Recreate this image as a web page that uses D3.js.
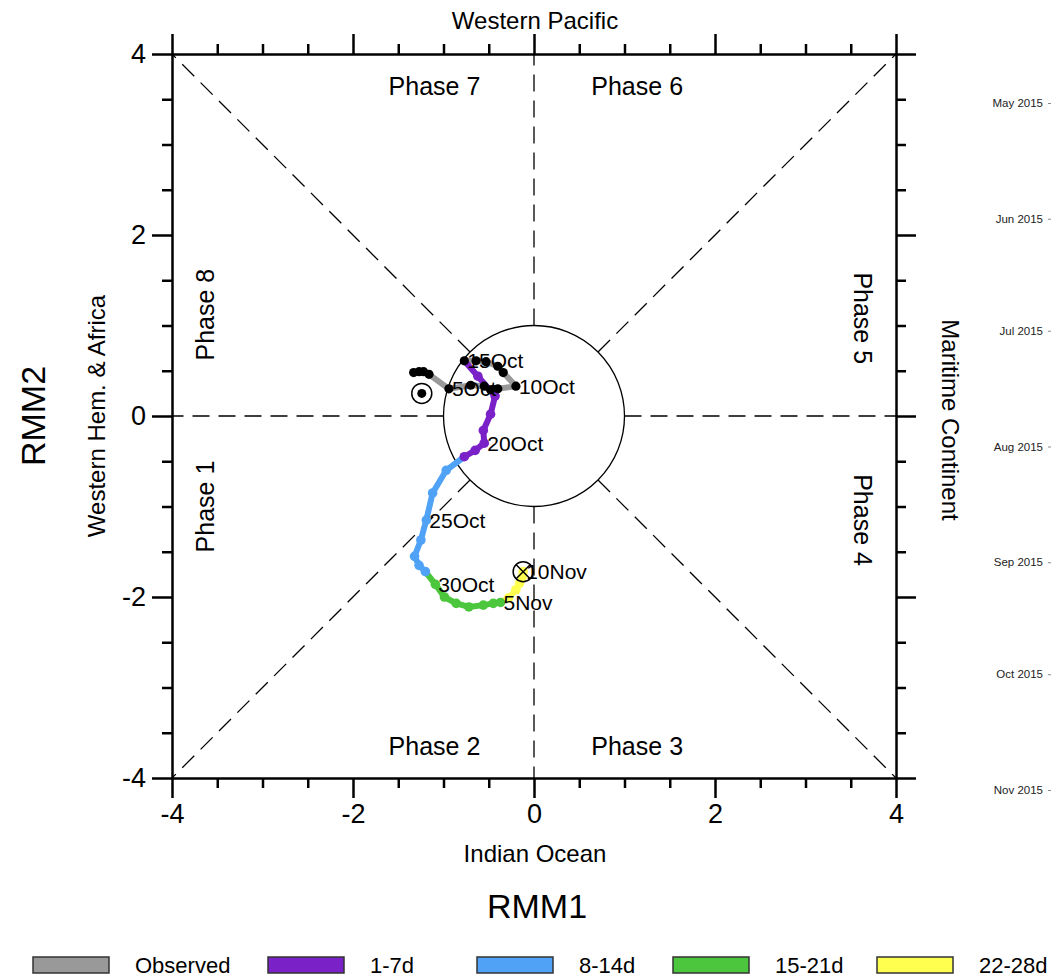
<!DOCTYPE html>
<html>
<head>
<meta charset="utf-8">
<script src="https://cdn.jsdelivr.net/npm/d3@7"></script>
<style>
  body { margin: 0; background: #fff; }
  text { font-family: "Liberation Sans", Arial, Helvetica, sans-serif; }
</style>
</head>
<body>
<div id="chart"></div>
<script>
// observed RMM index (last days before the forecast start)
const obsDates = ["2015-10-01","2015-10-02","2015-10-03","2015-10-04","2015-10-05","2015-10-06","2015-10-07",
  "2015-10-08","2015-10-09","2015-10-10","2015-10-11","2015-10-12","2015-10-13","2015-10-14","2015-10-15"];
const obsRMM1 = [-1.33,-1.27,-1.22,-1.16,-0.94,-0.70,-0.55,-0.48,-0.40,-0.20,-0.34,-0.40,-0.53,-0.64,-0.77];
const obsRMM2 = [0.48,0.49,0.49,0.46,0.30,0.34,0.33,0.29,0.30,0.33,0.48,0.55,0.60,0.61,0.61];

// ensemble mean forecast, lead days 1..26
const fcDates = ["2015-10-16","2015-10-17","2015-10-18","2015-10-19","2015-10-20","2015-10-21","2015-10-22",
  "2015-10-23","2015-10-24","2015-10-25","2015-10-26","2015-10-27","2015-10-28","2015-10-29",
  "2015-10-30","2015-10-31","2015-11-01","2015-11-02","2015-11-03","2015-11-04","2015-11-05",
  "2015-11-06","2015-11-07","2015-11-08","2015-11-09","2015-11-10"];
const fcRMM1 = [-0.62,-0.43,-0.48,-0.56,-0.55,-0.65,-0.77,
  -0.97,-1.12,-1.19,-1.25,-1.32,-1.27,-1.20,
  -1.09,-0.99,-0.86,-0.72,-0.56,-0.45,-0.37,
  -0.28,-0.20,-0.16,-0.13,-0.12];
const fcRMM2 = [0.44,0.22,0.02,-0.16,-0.30,-0.38,-0.45,
  -0.60,-0.85,-1.15,-1.37,-1.55,-1.65,-1.72,
  -1.86,-2.00,-2.07,-2.11,-2.09,-2.07,-2.06,
  -2.01,-1.92,-1.85,-1.78,-1.72];

const startPoint = [-1.24, 0.25];

const legendNames = ["Observed","1-7d","8-14d","15-21d","22-28d"];
const legendColors = ["#999999","#7a22c8","#4fa2f5","#4cc73d","#ffff50"];
const leadBreaks = [0, 7, 14, 21, 28];

const phaseNames = ["Phase 1","Phase 2","Phase 3","Phase 4","Phase 5","Phase 6","Phase 7","Phase 8"];
const majorTicks = [-4,-2,0,2,4];
const minorTicks = d3.range(-4, 4.01, 0.5).filter(d => d % 2 !== 0);

const W = 1057, H = 977;
const parse = d3.timeParse("%Y-%m-%d");
const fmtLabel = d3.timeFormat("%-d%b");

const x = d3.scaleLinear().domain([-4, 4]).range([172, 896]);
const y = d3.scaleLinear().domain([-4, 4]).range([778, 54]);

const svg = d3.select("#chart").append("svg")
  .attr("width", W).attr("height", H);
svg.append("rect").attr("width", W).attr("height", H).attr("fill", "#fff");

// dashed phase boundaries, from the frame to the unit circle
const c45 = Math.SQRT1_2;
const guides = [
  [[-4,-4],[-c45,-c45]], [[4,4],[c45,c45]], [[-4,4],[-c45,c45]], [[4,-4],[c45,-c45]],
  [[-4,0],[-1,0]], [[4,0],[1,0]], [[0,4],[0,1]], [[0,-4],[0,-1]]
];
svg.append("g")
  .selectAll("line")
  .data(guides)
  .join("line")
    .attr("x1", d => x(d[1][0])).attr("y1", d => y(d[1][1]))
    .attr("x2", d => x(d[0][0])).attr("y2", d => y(d[0][1]))
    .attr("stroke", "#000")
    .attr("stroke-width", 1.3)
    .attr("stroke-dasharray", "17,9");

svg.append("circle")
  .attr("cx", x(0)).attr("cy", y(0))
  .attr("r", x(1) - x(0))
  .attr("fill", "none")
  .attr("stroke", "#000")
  .attr("stroke-width", 1.3);

// axes with major + minor ticks on all four sides
function frameAxis(axisFn, transform, labels) {
  const g = svg.append("g").attr("transform", transform);
  g.call(axisFn()
    .tickValues(majorTicks).tickSize(20).tickSizeOuter(0).tickPadding(6)
    .tickFormat(labels ? (d => String(d)) : ""));
  const gm = svg.append("g").attr("transform", transform);
  gm.call(axisFn().tickValues(minorTicks).tickSize(10).tickSizeOuter(0).tickFormat(""));
  gm.select(".domain").remove();
  [g, gm].forEach(s => s.selectAll("line, path").attr("stroke", "#000").attr("stroke-width", 2.5));
  g.selectAll("text").attr("fill", "#000").style("font-size", "27px");
  return g;
}
frameAxis(() => d3.axisBottom(x), `translate(0,${y(-4)})`, true);
frameAxis(() => d3.axisTop(x), `translate(0,${y(4)})`, false);
frameAxis(() => d3.axisLeft(y), `translate(${x(-4)},0)`, true);
frameAxis(() => d3.axisRight(y), `translate(${x(4)},0)`, false);

// phase labels
const phasePos = {
  "Phase 7": [-1.1, 3.55, 0], "Phase 6": [1.14, 3.55, 0],
  "Phase 2": [-1.1, -3.75, 0], "Phase 3": [1.14, -3.75, 0],
  "Phase 8": [-3.63, 1.12, -90], "Phase 1": [-3.63, -1.0, -90],
  "Phase 5": [3.63, 1.08, 90], "Phase 4": [3.63, -1.15, 90]
};
svg.append("g")
  .selectAll("text")
  .data(phaseNames)
  .join("text")
    .attr("transform", d => `translate(${x(phasePos[d][0])},${y(phasePos[d][1])}) rotate(${phasePos[d][2]})`)
    .attr("text-anchor", "middle")
    .attr("dy", d => phasePos[d][2] === 0 ? 0 : "0.35em")
    .style("font-size", "25px")
    .text(d => d);

// region labels
const regions = [
  {t: "Western Pacific", x: 535, y: 29, r: 0, s: 24},
  {t: "Indian Ocean", x: 535, y: 862, r: 0, s: 24},
  {t: "Western Hem. & Africa", x: 105, y: 416, r: -90, s: 24},
  {t: "Maritime Continent", x: 942, y: 420, r: 90, s: 24},
  {t: "RMM1", x: 537, y: 918, r: 0, s: 34},
  {t: "RMM2", x: 45, y: 416, r: -90, s: 34}
];
svg.append("g")
  .selectAll("text")
  .data(regions)
  .join("text")
    .attr("transform", d => `translate(${d.x},${d.y}) rotate(${d.r})`)
    .attr("text-anchor", "middle")
    .style("font-size", d => d.s + "px")
    .text(d => d.t);

// observed track
const obs = obsDates.map((d, i) => ({date: parse(d), x: obsRMM1[i], y: obsRMM2[i]}));
const fc = fcDates.map((d, i) => ({date: parse(d), x: fcRMM1[i], y: fcRMM2[i], lead: i + 1}));
const line = d3.line().x(d => x(d.x)).y(d => y(d.y));

svg.append("path")
  .datum(obs)
  .attr("d", line)
  .attr("fill", "none")
  .attr("stroke", legendColors[0])
  .attr("stroke-width", 6)
  .attr("stroke-linejoin", "round");

// forecast segments coloured by lead time
const fcAll = [obs[obs.length - 1]].concat(fc);
const groups = d3.range(1, leadBreaks.length).map(k =>
  fcAll.filter((d, i) => i >= leadBreaks[k - 1] && i <= leadBreaks[k]));
svg.append("g")
  .selectAll("path")
  .data(groups)
  .join("path")
    .attr("d", line)
    .attr("fill", "none")
    .attr("stroke", (d, i) => legendColors[i + 1])
    .attr("stroke-width", 6)
    .attr("stroke-linejoin", "round")
    .attr("stroke-linecap", "round");

const leadColor = lead => legendColors[d3.bisectLeft(leadBreaks, lead)];
svg.append("g")
  .selectAll("circle")
  .data(fc)
  .join("circle")
    .attr("cx", d => x(d.x)).attr("cy", d => y(d.y))
    .attr("r", 4.8)
    .attr("fill", d => leadColor(d.lead));

svg.append("g")
  .selectAll("circle")
  .data(obs)
  .join("circle")
    .attr("cx", d => x(d.x)).attr("cy", d => y(d.y))
    .attr("r", 4.6)
    .attr("fill", "#000");

// start marker (circled dot) and end marker (circled cross)
svg.append("circle").attr("cx", x(startPoint[0])).attr("cy", y(startPoint[1]))
  .attr("r", 10).attr("fill", "none").attr("stroke", "#000").attr("stroke-width", 1.5);
svg.append("circle").attr("cx", x(startPoint[0])).attr("cy", y(startPoint[1]))
  .attr("r", 4.5).attr("fill", "#000");

const last = fc[fc.length - 1];
const ex = x(last.x), ey = y(last.y);
svg.append("circle").attr("cx", ex).attr("cy", ey)
  .attr("r", 10).attr("fill", "none").attr("stroke", "#000").attr("stroke-width", 1.5);
svg.append("path")
  .attr("d", `M${ex - 7},${ey - 7}L${ex + 7},${ey + 7}M${ex - 7},${ey + 7}L${ex + 7},${ey - 7}`)
  .attr("stroke", "#000").attr("stroke-width", 1.5);

// date labels every 5 days
const labelled = obs.concat(fc).filter(d => d.date.getDate() % 5 === 0);
svg.append("g")
  .selectAll("text")
  .data(labelled)
  .join("text")
    .attr("x", d => x(d.x) + 3)
    .attr("y", d => y(d.y))
    .attr("dy", "0.36em")
    .style("font-size", "21px")
    .text(d => fmtLabel(d.date));

// month axis on the right edge
const t = d3.scaleTime()
  .domain([new Date(2015, 4, 1), new Date(2015, 10, 1)])
  .range([103, 790]);
const tAxis = svg.append("g")
  .attr("transform", "translate(1051,0)")
  .call(d3.axisLeft(t).ticks(d3.timeMonth.every(1)).tickFormat(d3.timeFormat("%b %Y"))
    .tickSize(3).tickPadding(5));
tAxis.select(".domain").remove();
tAxis.selectAll("line").attr("stroke", "#888");
tAxis.selectAll("text").attr("fill", "#222").style("font-size", "11.5px");

// legend
const legendX = [33, 268, 477, 673, 877];
const legend = svg.append("g")
  .selectAll("g")
  .data(legendNames)
  .join("g")
    .attr("transform", (d, i) => `translate(${legendX[i]},957)`);
legend.append("rect")
  .attr("width", 76).attr("height", 16)
  .attr("fill", (d, i) => legendColors[i])
  .attr("stroke", "#333").attr("stroke-width", 1.5);
legend.append("text")
  .attr("x", 102).attr("y", 16)
  .style("font-size", "22px")
  .text(d => d);
</script>
</body>
</html>
